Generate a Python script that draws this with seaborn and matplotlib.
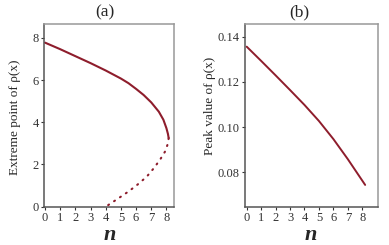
import pandas as pd
import seaborn as sns
import matplotlib.pyplot as plt

# Panel (a): extreme point of rho(x) vs n, stable branch (solid)
upper_n = [0.0, 1.0, 2.0, 3.0, 4.0, 5.0, 5.5, 6.0, 6.5, 7.0, 7.5, 7.8, 8.0, 8.1, 8.15]
upper_y = [7.77, 7.46, 7.13, 6.80, 6.45, 6.07, 5.85, 5.58, 5.29, 4.94, 4.50, 4.12, 3.72, 3.45, 3.25]

# Panel (a): lower branch (dotted)
lower_n = [8.15, 8.08, 7.9, 7.6, 7.2, 6.7, 6.1, 5.5, 4.8, 4.0]
lower_y = [3.25, 2.95, 2.6, 2.25, 1.85, 1.42, 1.05, 0.72, 0.38, 0.0]

# Panel (b): peak value of rho(x) vs n
peak_n = [0.0, 1.0, 2.0, 3.0, 4.0, 5.0, 6.0, 7.0, 8.0, 8.2]
peak_y = [0.1356, 0.1293, 0.1229, 0.1164, 0.1098, 0.1027, 0.0947, 0.0858, 0.0763, 0.0744]

ticks_n = [0, 1, 2, 3, 4, 5, 6, 7, 8]
ticks_a = [0, 2, 4, 6, 8]
ticks_b = [0.08, 0.10, 0.12, 0.14]
tick_labels_b = ["0.08", "0.10", "0.12", "0.14"]

sns.set_style("white")
plt.rcParams['font.family'] = ['Liberation Serif', 'DejaVu Serif']

line_color = "#8e1d2c"

fig = plt.figure(figsize=(3.89, 2.45), dpi=100)
ax1 = fig.add_axes([0.1131, 0.1563, 0.3342, 0.7437])
ax2 = fig.add_axes([0.629, 0.154, 0.342, 0.7468])

upper = pd.DataFrame({"n": upper_n, "y": upper_y})
lower = pd.DataFrame({"n": lower_n, "y": lower_y})
peak = pd.DataFrame({"n": peak_n, "y": peak_y})

sns.lineplot(data=upper, x="n", y="y", sort=False, estimator=None,
             color=line_color, linewidth=1.5, ax=ax1)
sns.lineplot(data=lower, x="n", y="y", sort=False, estimator=None,
             color=line_color, linewidth=1.5, linestyle=(0, (0.5, 2.9)),
             dash_capstyle="round", ax=ax1)
sns.lineplot(data=peak, x="n", y="y", sort=False, estimator=None,
             color=line_color, linewidth=1.4, ax=ax2)

ax1.set_xlim(-0.07, 8.5)
ax1.set_ylim(0, 8.63)
ax1.set_yticks(ticks_a)
ax2.set_xlim(-0.14, 9.07)
ax2.set_ylim(0.0645, 0.1455)
ax2.set_yticks(ticks_b)
ax2.set_yticklabels(tick_labels_b)

for ax in (ax1, ax2):
    ax.set_xticks(ticks_n)
    ax.set_xlabel("")
    ax.set_ylabel("")
    ax.tick_params(axis="both", direction="out", length=2.5, width=0.8,
                   colors="#333333", labelsize=9, pad=1.2, left=True, bottom=True)
    for side in ("left", "bottom"):
        ax.spines[side].set_color("#555555")
        ax.spines[side].set_linewidth(1.1)
    for side in ("top", "right"):
        ax.spines[side].set_color("#999999")
        ax.spines[side].set_linewidth(1.1)

# titles, axis labels
fig.text(105 / 389, 1 - 12 / 245, "(a)", ha="center", va="center", fontsize=12.5)
fig.text(299 / 389, 1 - 12 / 245, "(b)", ha="center", va="center", fontsize=12.5)
fig.text(15 / 389, 1 - 117 / 245, "Extreme point of ρ(x)", rotation=90,
         ha="center", va="center", fontsize=9.5)
fig.text(210 / 389, 1 - 106 / 245, "Peak value of ρ(x)", rotation=90,
         ha="center", va="center", fontsize=9.5)
fig.text(110 / 389, 1 - 240 / 245, "n", ha="center", va="baseline",
         fontsize=16, style="italic", weight="bold")
fig.text(311 / 389, 1 - 240 / 245, "n", ha="center", va="baseline",
         fontsize=16, style="italic", weight="bold")

fig.savefig("out.png", dpi=100)
